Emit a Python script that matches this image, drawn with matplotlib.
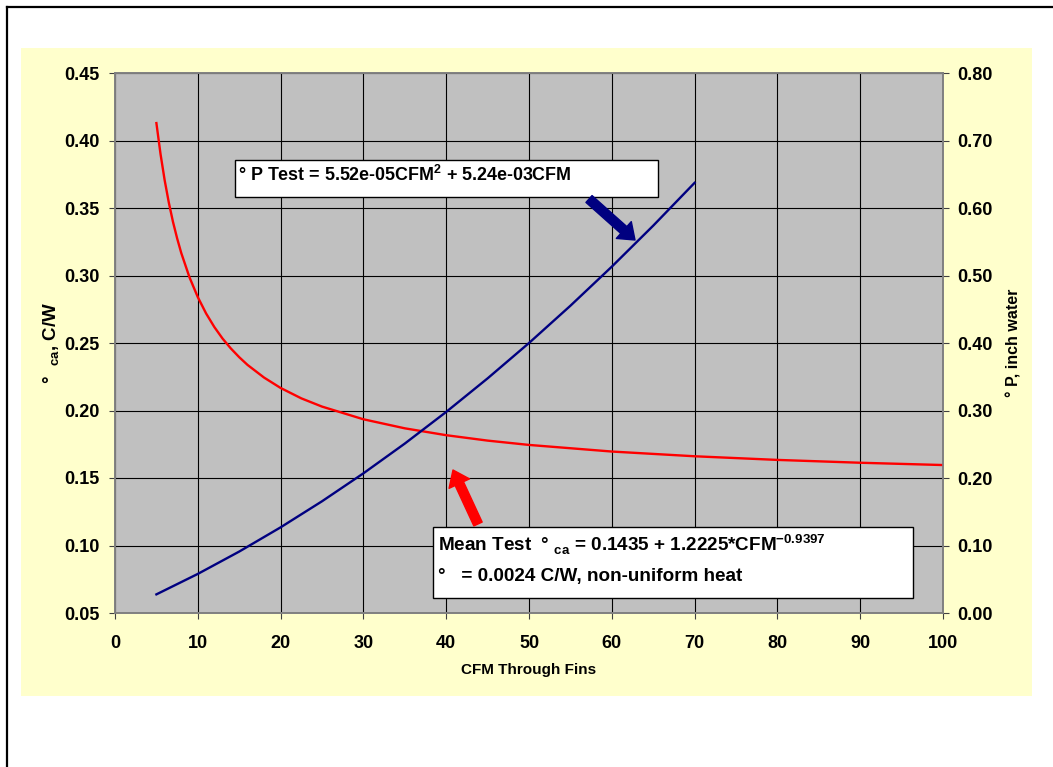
#!/usr/bin/env python3
"""
CFM through fins: thermal resistance and pressure drop vs airflow
"""
import matplotlib
matplotlib.use('Agg')
import matplotlib.pyplot as plt
from matplotlib.patches import Rectangle
from matplotlib.lines import Line2D

matplotlib.rcParams['font.family'] = ['Liberation Sans', 'DejaVu Sans']
matplotlib.rcParams['font.weight'] = 'bold'
matplotlib.rcParams['mathtext.fontset'] = 'custom'
matplotlib.rcParams['mathtext.rm'] = 'Liberation Sans'
matplotlib.rcParams['mathtext.bf'] = 'Liberation Sans:bold'

# 数据
cfm_r = [5, 5.5, 6, 6.5, 7, 7.5, 8, 9, 10, 11, 12, 13, 14, 15, 16, 18, 20, 22.5, 25,
         30, 35, 40, 45, 50, 60, 70, 80, 90, 100]
theta_ca = [0.4129, 0.3899, 0.3705, 0.3540, 0.3398, 0.3276, 0.3167, 0.2986, 0.2840,
            0.2719, 0.2618, 0.2532, 0.2459, 0.2395, 0.2338, 0.2244, 0.2167, 0.2090,
            0.2029, 0.1935, 0.1868, 0.1817, 0.1777, 0.1745, 0.1696, 0.1661, 0.1634,
            0.1613, 0.1596]

cfm_p = [5, 10, 15, 20, 25, 30, 35, 40, 45, 50, 55, 60, 65, 70]
dp = [0.0276, 0.0579, 0.0910, 0.1269, 0.1655, 0.2069, 0.2510, 0.2979, 0.3476,
      0.4000, 0.4552, 0.5131, 0.5738, 0.6373]

x_ticks = [0, 10, 20, 30, 40, 50, 60, 70, 80, 90, 100]
left_ticks = [0.05, 0.10, 0.15, 0.20, 0.25, 0.30, 0.35, 0.40, 0.45]
right_ticks = [0.00, 0.10, 0.20, 0.30, 0.40, 0.50, 0.60, 0.70, 0.80]

W, H = 1053, 767
fig = plt.figure(figsize=(W / 100, H / 100), dpi=100)
fig.patch.set_facecolor('white')

# 黄色背景面板
fig.patches.append(Rectangle((21 / W, 1 - 696 / H), (1032 - 21) / W, (696 - 48) / H,
                             transform=fig.transFigure, facecolor='#FFFFCC',
                             edgecolor='none', zorder=-10))
# 外边框 (只有上和左)
fig.lines.append(Line2D([6.5 / W, 1], [1 - 6.5 / H, 1 - 6.5 / H], transform=fig.transFigure,
                        color='black', linewidth=1.6))
fig.lines.append(Line2D([6.5 / W, 6.5 / W], [0, 1 - 6.5 / H], transform=fig.transFigure,
                        color='black', linewidth=1.6))

ax = fig.add_axes([115 / W, 1 - 613 / H, 828 / W, 540 / H])
ax.set_facecolor('#C0C0C0')
ax.plot(cfm_r, theta_ca, color='#FF0000', linewidth=1.7, zorder=3)
ax.set_xlim(0, 100)
ax.set_ylim(0.05, 0.45)
ax.set_xticks(x_ticks)
ax.set_yticks(left_ticks)
ax.set_yticklabels([f'{v:.2f}' for v in left_ticks])
ax.grid(True, color='black', linewidth=0.8)
ax.set_axisbelow(True)
ax.tick_params(axis='both', direction='out', length=4, width=0.8, color='#404040',
               labelsize=13)
ax.tick_params(axis='x', pad=12)
ax.tick_params(axis='y', pad=7)
for s in ax.spines.values():
    s.set_color('#808080')
    s.set_linewidth(1.2)
ax.set_xlabel('CFM Through Fins', fontsize=11, fontweight='bold', labelpad=8)
ax.set_ylabel(r'°  $_{\mathbf{ca}}$, C/W', fontsize=13.5, fontweight='bold', labelpad=1.5)

ax2 = ax.twinx()
ax2.plot(cfm_p, dp, color='#000080', linewidth=1.7, zorder=3)
ax2.set_ylim(0.0, 0.8)
ax2.set_yticks(right_ticks)
ax2.set_yticklabels([f'{v:.2f}' for v in right_ticks])
ax2.tick_params(axis='y', direction='out', length=4, width=0.8, color='#404040',
                labelsize=13, pad=6)
for s in ax2.spines.values():
    s.set_color('#808080')
    s.set_linewidth(1.2)
ax2.set_ylabel('° P, inch water', fontsize=11.5, fontweight='bold', labelpad=10)

# 注释框
def px_x(p):
    return (p - 115) / 828

def px_y(p):
    return (613 - p) / 540

ax2.add_patch(Rectangle((px_x(235), px_y(197)), px_x(658) - px_x(235), px_y(160) - px_y(197),
                        transform=ax2.transAxes, facecolor='white', edgecolor='black',
                        linewidth=1.0, zorder=5))
ax2.text(px_x(238), px_y(181), r'° P Test = 5.52e-05CFM$^{\mathbf{2}}$ + 5.24e-03CFM',
         transform=ax2.transAxes, fontsize=12.9, fontweight='bold', va='baseline',
         ha='left', zorder=6)

ax2.add_patch(Rectangle((px_x(433), px_y(598)), px_x(913) - px_x(433), px_y(527) - px_y(598),
                        transform=ax2.transAxes, facecolor='white', edgecolor='black',
                        linewidth=1.0, zorder=5))
ax2.text(px_x(438), px_y(552),
         r'Mean Test  ° $_{\mathbf{ca}}$ = 0.1435 + 1.2225*CFM$^{\mathbf{-0.9397}}$',
         transform=ax2.transAxes, fontsize=13.6, fontweight='bold', va='baseline',
         ha='left', zorder=6)
ax2.text(px_x(438), px_y(581), '°   = 0.0024 C/W, non-uniform heat',
         transform=ax2.transAxes, fontsize=13.6, fontweight='bold', va='baseline',
         ha='left', zorder=6)

# 箭头
arrow_style = 'simple,head_length=0.9,head_width=1.35,tail_width=0.55'
ax2.annotate('', xy=(px_x(635), px_y(240)), xytext=(px_x(589), px_y(199)),
             xycoords='axes fraction', textcoords='axes fraction',
             arrowprops=dict(arrowstyle=arrow_style, color='#000080', mutation_scale=12,
                             shrinkA=0, shrinkB=0), zorder=6)
ax2.annotate('', xy=(px_x(453), px_y(470)), xytext=(px_x(478), px_y(524)),
             xycoords='axes fraction', textcoords='axes fraction',
             arrowprops=dict(arrowstyle=arrow_style, color='#FF0000', mutation_scale=12,
                             shrinkA=0, shrinkB=0), zorder=6)

plt.savefig('out.png', dpi=100)
